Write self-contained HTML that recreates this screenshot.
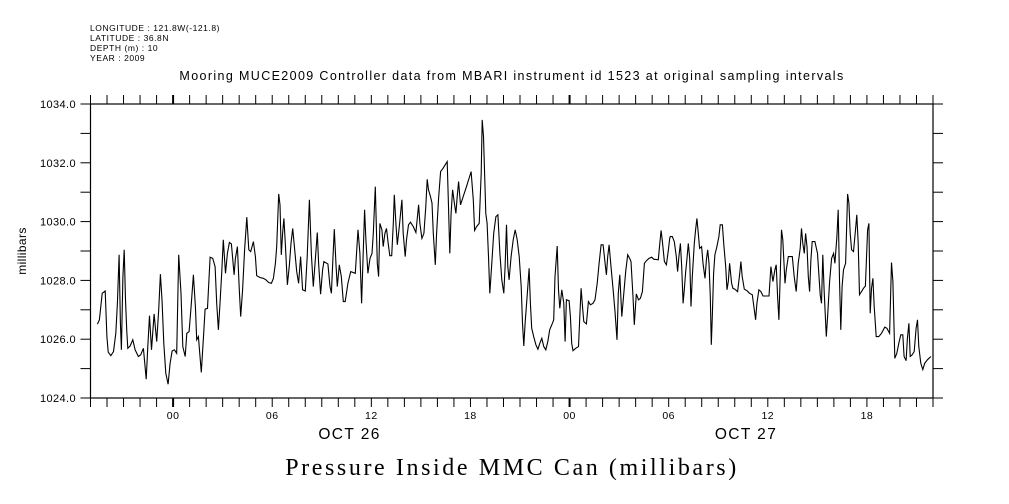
<!DOCTYPE html>
<html><head><meta charset="utf-8"><style>
html,body{margin:0;padding:0;background:#fff;width:1009px;height:504px;overflow:hidden}
svg{display:block}
text{font-family:"Liberation Sans",sans-serif;fill:#000}
</style></head><body>
<svg id="chart" width="1009" height="504" viewBox="0 0 1009 504" xmlns="http://www.w3.org/2000/svg">
<g font-size="8.5" letter-spacing="0.55">
<text x="90" y="31">LONGITUDE : 121.8W(-121.8)</text>
<text x="90" y="41">LATITUDE : 36.8N</text>
<text x="90" y="51">DEPTH (m) : 10</text>
<text x="90" y="61">YEAR : 2009</text>
</g>
<text x="512" y="80" text-anchor="middle" font-size="12.5" letter-spacing="1.37">Mooring MUCE2009 Controller data from MBARI instrument id 1523 at original sampling intervals</text>
<text transform="translate(26,251) rotate(-90)" text-anchor="middle" font-size="12" letter-spacing="0.4">millibars</text>
<text x="512" y="475" text-anchor="middle" font-size="24" letter-spacing="2.6" style="font-family:'Liberation Serif',serif">Pressure Inside MMC Can (millibars)</text>
<g id="axes"></g>
<g id="series"></g>
</svg>
<script>
const times=[-4.58,-4.46,-4.29,-4.11,-4.01,-3.93,-3.77,-3.61,-3.47,-3.37,-3.27,-3.19,-3.13,-3.04,-2.96,-2.88,-2.80,-2.74,-2.60,-2.44,-2.30,-2.10,-1.96,-1.80,-1.63,-1.53,-1.43,-1.31,-1.15,-0.99,-0.87,-0.77,-0.67,-0.56,-0.44,-0.30,-0.18,-0.06,0.08,0.22,0.34,0.48,0.59,0.73,0.83,0.97,1.09,1.23,1.35,1.43,1.53,1.71,1.84,1.94,2.08,2.24,2.40,2.54,2.64,2.74,2.84,2.94,3.04,3.17,3.29,3.41,3.53,3.69,3.77,3.89,4.01,4.09,4.21,4.33,4.46,4.58,4.70,4.86,4.98,5.06,5.26,5.46,5.62,5.79,5.95,6.07,6.19,6.27,6.39,6.47,6.55,6.63,6.71,6.79,6.92,7.04,7.14,7.24,7.36,7.48,7.60,7.72,7.84,8.00,8.12,8.25,8.37,8.49,8.61,8.73,8.81,8.93,9.05,9.13,9.37,9.50,9.58,9.66,9.76,9.86,9.94,10.06,10.18,10.30,10.42,10.58,10.75,11.03,11.19,11.31,11.41,11.51,11.59,11.67,11.79,11.92,12.04,12.12,12.24,12.36,12.44,12.52,
12.64,12.72,12.82,12.92,13.02,13.12,13.23,13.33,13.39,13.49,13.57,13.69,13.85,13.93,14.05,14.13,14.25,14.37,14.54,14.70,14.86,14.94,15.06,15.18,15.30,15.38,15.46,15.58,15.67,15.75,15.87,15.95,16.07,16.19,16.35,16.59,16.67,16.75,16.83,16.92,17.04,17.12,17.20,17.28,17.40,17.56,17.76,17.92,18.04,18.17,18.25,18.37,18.53,18.65,18.71,18.79,18.85,18.93,19.01,19.09,19.17,19.29,19.41,19.54,19.66,19.78,19.90,20.02,20.10,20.18,20.26,20.34,20.46,20.59,20.71,20.83,20.95,21.07,21.15,21.23,21.31,21.43,21.55,21.63,21.71,21.83,21.96,22.08,22.20,22.32,22.44,22.56,22.68,22.80,22.96,23.04,23.12,23.25,23.33,23.41,23.53,23.65,23.73,23.81,23.97,24.05,24.13,24.21,24.37,24.54,24.62,24.70,24.78,24.86,25.02,25.14,25.26,25.42,25.54,25.67,25.79,25.91,26.03,26.15,26.23,26.31,26.39,26.51,26.63,26.75,26.87,26.95,27.04,27.16,27.28,27.40,27.52,27.64,27.72,27.84,27.92,28.04,28.17,28.29,28.41,28.53,28.65,28.81,28.97,29.09,29.37,29.46,29.54,29.62,29.74,29.86,29.98,30.06,
30.10,30.22,30.34,30.46,30.54,30.62,30.71,30.79,30.87,30.95,31.03,31.11,31.19,31.27,31.35,31.43,31.55,31.63,31.71,31.79,31.87,31.99,32.08,32.20,32.28,32.36,32.44,32.52,32.58,32.64,32.72,32.80,32.92,33.04,33.12,33.25,33.33,33.45,33.53,33.61,33.69,33.81,33.89,34.01,34.17,34.29,34.37,34.45,34.58,34.74,34.90,35.06,35.18,35.26,35.34,35.46,35.58,35.71,36.07,36.19,36.31,36.43,36.51,36.59,36.67,36.75,36.83,36.91,37.04,37.12,37.24,37.48,37.60,37.72,37.84,37.96,38.04,38.12,38.21,38.29,38.37,38.45,38.53,38.61,38.69,38.85,39.01,39.17,39.25,39.33,39.41,39.54,39.62,39.74,39.86,39.98,40.06,40.18,40.26,40.34,40.42,40.50,40.58,40.71,40.83,40.91,40.99,41.07,41.19,41.31,41.39,41.47,41.55,41.79,41.91,42.04,42.12,42.20,42.28,42.36,42.44,42.56,42.72,42.88,43.08,43.21,43.37,43.49,43.57,43.69,43.81,43.93,44.05,44.17,44.25,44.37,44.45,44.54,44.62,44.74,44.86,44.98,45.06,45.14,45.26,45.38,45.50,45.66,45.87];
const pressure=[1026.51,1026.66,1027.56,1027.64,1026.09,1025.56,1025.44,1025.58,1026.20,1027.22,1028.87,1026.54,1025.64,1028.13,1029.04,1027.34,1026.26,1025.69,1025.77,1025.98,1025.64,1025.41,1025.47,1025.69,1024.64,1025.75,1026.80,1025.64,1026.86,1025.92,1027.00,1028.21,1027.34,1025.86,1024.84,1024.47,1025.18,1025.60,1025.64,1025.52,1028.87,1027.56,1025.75,1025.41,1026.20,1026.26,1027.11,1028.19,1027.11,1025.98,1026.09,1024.87,1026.09,1027.02,1027.05,1028.79,1028.75,1028.47,1027.22,1026.32,1027.22,1028.24,1029.38,1028.24,1028.92,1029.29,1029.24,1028.19,1028.75,1029.15,1027.68,1026.77,1027.68,1029.04,1030.15,1029.04,1028.98,1029.32,1028.81,1028.16,1028.10,1028.07,1028.02,1027.93,1027.90,1028.07,1028.58,1029.15,1030.94,1030.57,1028.87,1029.60,1030.11,1029.26,1027.85,1028.53,1029.26,1029.77,1029.04,1028.30,1027.90,1028.81,1027.68,1027.64,1028.81,1030.74,1028.87,1027.79,1028.70,1029.63,1028.58,1027.53,1028.36,1028.64,1028.56,1027.79,1027.56,1028.58,1029.74,1028.53,1027.79,1028.53,1028.13,1027.28,1027.28,1027.90,1028.30,1028.24,1029.72,1028.92,1027.22,1028.92,1030.40,1029.38,1028.24,1028.75,1028.92,1029.60,1031.19,1028.58,1028.13,1029.94,
1029.72,1029.15,1029.60,1029.77,1029.26,1028.84,1028.84,1029.94,1030.91,1029.94,1029.21,1029.83,1030.74,1029.60,1028.81,1029.38,1029.89,1029.98,1029.83,1029.63,1030.57,1029.94,1029.43,1029.60,1030.51,1031.44,1031.08,1030.85,1030.63,1029.60,1028.53,1029.60,1030.80,1031.70,1031.82,1032.04,1030.51,1028.92,1030.28,1031.08,1030.57,1030.28,1030.85,1031.36,1030.57,1030.85,1031.19,1031.48,1031.70,1030.74,1029.70,1029.83,1029.94,1031.65,1033.46,1032.89,1031.76,1030.28,1029.94,1028.81,1027.56,1028.58,1029.60,1030.17,1030.23,1028.92,1028.02,1027.56,1028.47,1029.89,1028.47,1028.02,1028.81,1029.38,1029.72,1029.38,1028.81,1027.79,1026.54,1025.77,1026.54,1027.45,1028.41,1027.22,1026.37,1026.09,1025.81,1025.66,1025.86,1026.03,1025.75,1025.64,1025.92,1026.32,1026.54,1026.66,1028.13,1029.17,1027.68,1027.05,1027.68,1027.22,1025.92,1027.34,1027.31,1026.77,1025.86,1025.61,1025.69,1025.75,1026.77,1027.73,1027.11,1026.60,1026.52,1027.28,1027.17,1027.22,1027.34,1027.90,1028.58,1029.21,1029.21,1028.58,1028.19,1028.81,1029.21,1028.47,1027.73,1026.94,1025.98,1027.56,1028.19,1026.77,1027.56,1028.30,1028.87,1028.75,1028.64,1027.45,1026.49,1027.54,1027.34,1027.39,1027.62,1028.58,1028.67,1028.75,1028.79,1028.72,1028.70,1029.26,1029.70,1029.32,1028.64,1028.53,1029.04,1029.43,
1029.49,1029.49,1029.32,1028.81,1028.30,1028.81,1029.26,1028.47,1027.22,1027.73,1028.30,1028.75,1029.26,1028.75,1027.11,1028.13,1029.26,1029.72,1030.11,1029.60,1029.09,1029.15,1028.58,1028.07,1028.70,1029.04,1028.58,1027.45,1025.81,1026.77,1028.24,1028.87,1029.15,1029.49,1029.89,1029.89,1029.26,1028.47,1027.68,1027.96,1028.58,1027.90,1027.73,1027.70,1027.62,1028.19,1028.64,1028.13,1027.70,1027.65,1027.56,1027.51,1027.00,1026.66,1027.22,1027.68,1027.62,1027.47,1027.47,1028.47,1027.96,1028.36,1028.53,1027.45,1026.66,1028.13,1029.72,1029.38,1027.90,1028.36,1028.81,1028.81,1028.13,1027.62,1028.58,1029.09,1029.77,1029.26,1028.92,1029.60,1029.15,1028.13,1027.62,1028.70,1029.32,1029.32,1028.92,1027.51,1027.22,1028.87,1027.68,1026.09,1026.77,1027.96,1028.75,1028.92,1028.58,1029.49,1030.40,1028.02,1026.32,1027.79,1028.36,1028.58,1030.94,1030.63,1029.60,1029.04,1028.98,1029.72,1030.23,1029.26,1027.51,1027.73,1027.81,1029.72,1029.94,1026.88,1027.73,1028.07,1027.11,1026.09,1026.09,1026.20,1026.41,1026.37,1026.20,1028.61,1027.96,1025.35,1025.52,1025.86,1026.15,1026.15,1025.41,1025.27,1026.03,1026.54,1025.41,1025.47,1025.58,1026.37,1026.66,1025.75,1025.18,1024.97,1025.18,1025.30,1025.41];
const yTickValues=[1024,1026,1028,1030,1032,1034];
const yTickLabels=["1024.0","1026.0","1028.0","1030.0","1032.0","1034.0"];
const xTickHours=[0,6,12,18,24,30,36,42];
const xTickLabels=["00","06","12","18","00","06","12","18"];
const dayHours=[10.5,34.5];
const dayLabels=["OCT 26","OCT 27"];

const L=90.5,R=933,T=104,B=398,t0=-5,t1=46,v0=1024,v1=1034;
const sx=t=>L+(t-t0)/(t1-t0)*(R-L);
const sy=v=>B-(v-v0)/(v1-v0)*(B-T);
const NS='http://www.w3.org/2000/svg';
const axes=document.getElementById('axes');
function mk(tag,at,parent){const e=document.createElementNS(NS,tag);for(const k in at)e.setAttribute(k,at[k]);parent.appendChild(e);return e;}
const frame=mk('rect',{x:L,y:T,width:R-L,height:B-T,fill:'none',stroke:'#000','stroke-width':1.2},axes);


for(let h=t0;h<=t1;h++){
  const x=sx(h),major=((h%24)+24)%24===0;
  const tb=mk('line',{x1:x,y1:B,x2:x,y2:B+9,stroke:'#000','stroke-width':major?2:1},axes);
  
  
  const tt=mk('line',{x1:x,y1:T,x2:x,y2:T-9,stroke:'#000','stroke-width':major?2:1},axes);
  
  
}
for(let v=v0;v<=v1;v++){
  const y=sy(v);
  const a=mk('line',{x1:L-10,y1:y,x2:L,y2:y,stroke:'#000','stroke-width':1},axes);
  
  
  const b=mk('line',{x1:R,y1:y,x2:R+10,y2:y,stroke:'#000','stroke-width':1},axes);
  
  
}
yTickValues.forEach((v,i)=>{
  const t=mk('text',{x:76,y:sy(v)+4,'text-anchor':'end','font-size':11,'letter-spacing':0.4},axes);
  t.textContent=yTickLabels[i];
  
  
});
xTickHours.forEach((h,i)=>{
  const t=mk('text',{x:sx(h),y:419,'text-anchor':'middle','font-size':10.5,'letter-spacing':0.5},axes);
  t.textContent=xTickLabels[i];
  
  
});
dayHours.forEach((h,i)=>{
  const t=mk('text',{x:sx(h)+3,y:439,'text-anchor':'middle','font-size':15.5,'letter-spacing':1.4},axes);
  t.textContent=dayLabels[i];
  
  
});
const pts=times.map((t,i)=>sx(t).toFixed(1)+','+sy(pressure[i]).toFixed(1)).join(' ');
const line=mk('polyline',{points:pts,fill:'none',stroke:'#000','stroke-width':1.1},document.getElementById('series'));


</script>
</body></html>
